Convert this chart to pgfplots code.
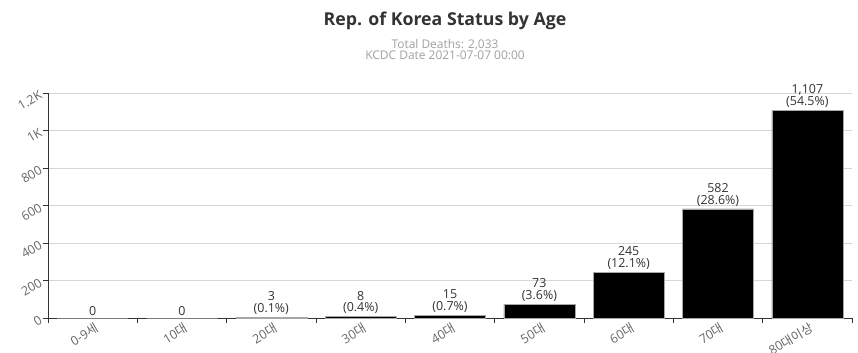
\documentclass[border=0pt]{standalone}
\usepackage{fontspec}
\setmainfont{Open Sans}
\newfontfamily\kr{Noto Sans CJK KR}
\usepackage{pgfplots}
\pgfplotsset{compat=1.18}
\definecolor{titlec}{HTML}{333333}
\definecolor{subc}{HTML}{A0A0A0}
\definecolor{tickc}{HTML}{666666}
\definecolor{gridc}{HTML}{D6D6D6}
\definecolor{axisc}{HTML}{333333}
\begin{document}
\begin{tikzpicture}[x=1bp,y=1bp]
\useasboundingbox (0,0) rectangle (858,352);
\node[font=\fontsize{17.8}{20}\selectfont\bfseries, text=titlec] at (445,331) {Rep. of Korea Status by Age};
\node[font=\fontsize{12}{11}\selectfont, text=subc, align=center] at (445,302) {Total Deaths: 2,033\\KCDC Date 2021-07-07 00:00};
\begin{axis}[at={(48bp,34bp)}, anchor=south west, scale only axis,
  width=804bp, height=225bp,
  xmin=-0.5, xmax=8.5, ymin=0, ymax=1200,
  ybar, bar width=71bp,
  axis lines*=left,
  axis line style={axisc, line width=0.8pt},
  ytick={0,200,...,1200}, yticklabels={0,200,400,600,800,1K,1.2K},
  xtick={0,...,8},
  xticklabels={{0-9\kr 세},{10\kr 대},{20\kr 대},{30\kr 대},{40\kr 대},{50\kr 대},{60\kr 대},{70\kr 대},{80\kr 대이상}},
  minor xtick={-0.5,0.5,...,8.5},
  tick align=outside,
  major tick length=5bp, minor tick length=5bp,
  x tick style={draw=none},
  minor x tick style={draw=axisc, line width=0.8pt},
  y tick style={draw=axisc, line width=0.8pt},
  ymajorgrids, grid style={gridc, line width=0.6pt},
  tick label style={font=\fontsize{12.5}{13}\selectfont, text=tickc},
  /pgf/number format/assume math mode=true,
  yticklabel style={rotate=30, anchor=east, xshift=1bp},
  xticklabel style={rotate=30, anchor=north east, inner sep=1bp, xshift=3bp, yshift=1bp},
  nodes near coords,
  point meta=explicit symbolic,
  nodes near coords style={font=\fontsize{12.5}{12}\selectfont, text=titlec, align=center, anchor=south, yshift=-1bp},
]
\addplot[fill=black, draw=gray!70, line width=0.5pt] coordinates {
 (0,0) [0]
 (1,0) [0]
 (2,3) [{3\\(0.1\%)}]
 (3,8) [{8\\(0.4\%)}]
 (4,15) [{15\\(0.7\%)}]
 (5,73) [{73\\(3.6\%)}]
 (6,245) [{245\\(12.1\%)}]
 (7,582) [{582\\(28.6\%)}]
 (8,1107) [{1{,}107\\(54.5\%)}]
};
\end{axis}
\end{tikzpicture}
\end{document}
